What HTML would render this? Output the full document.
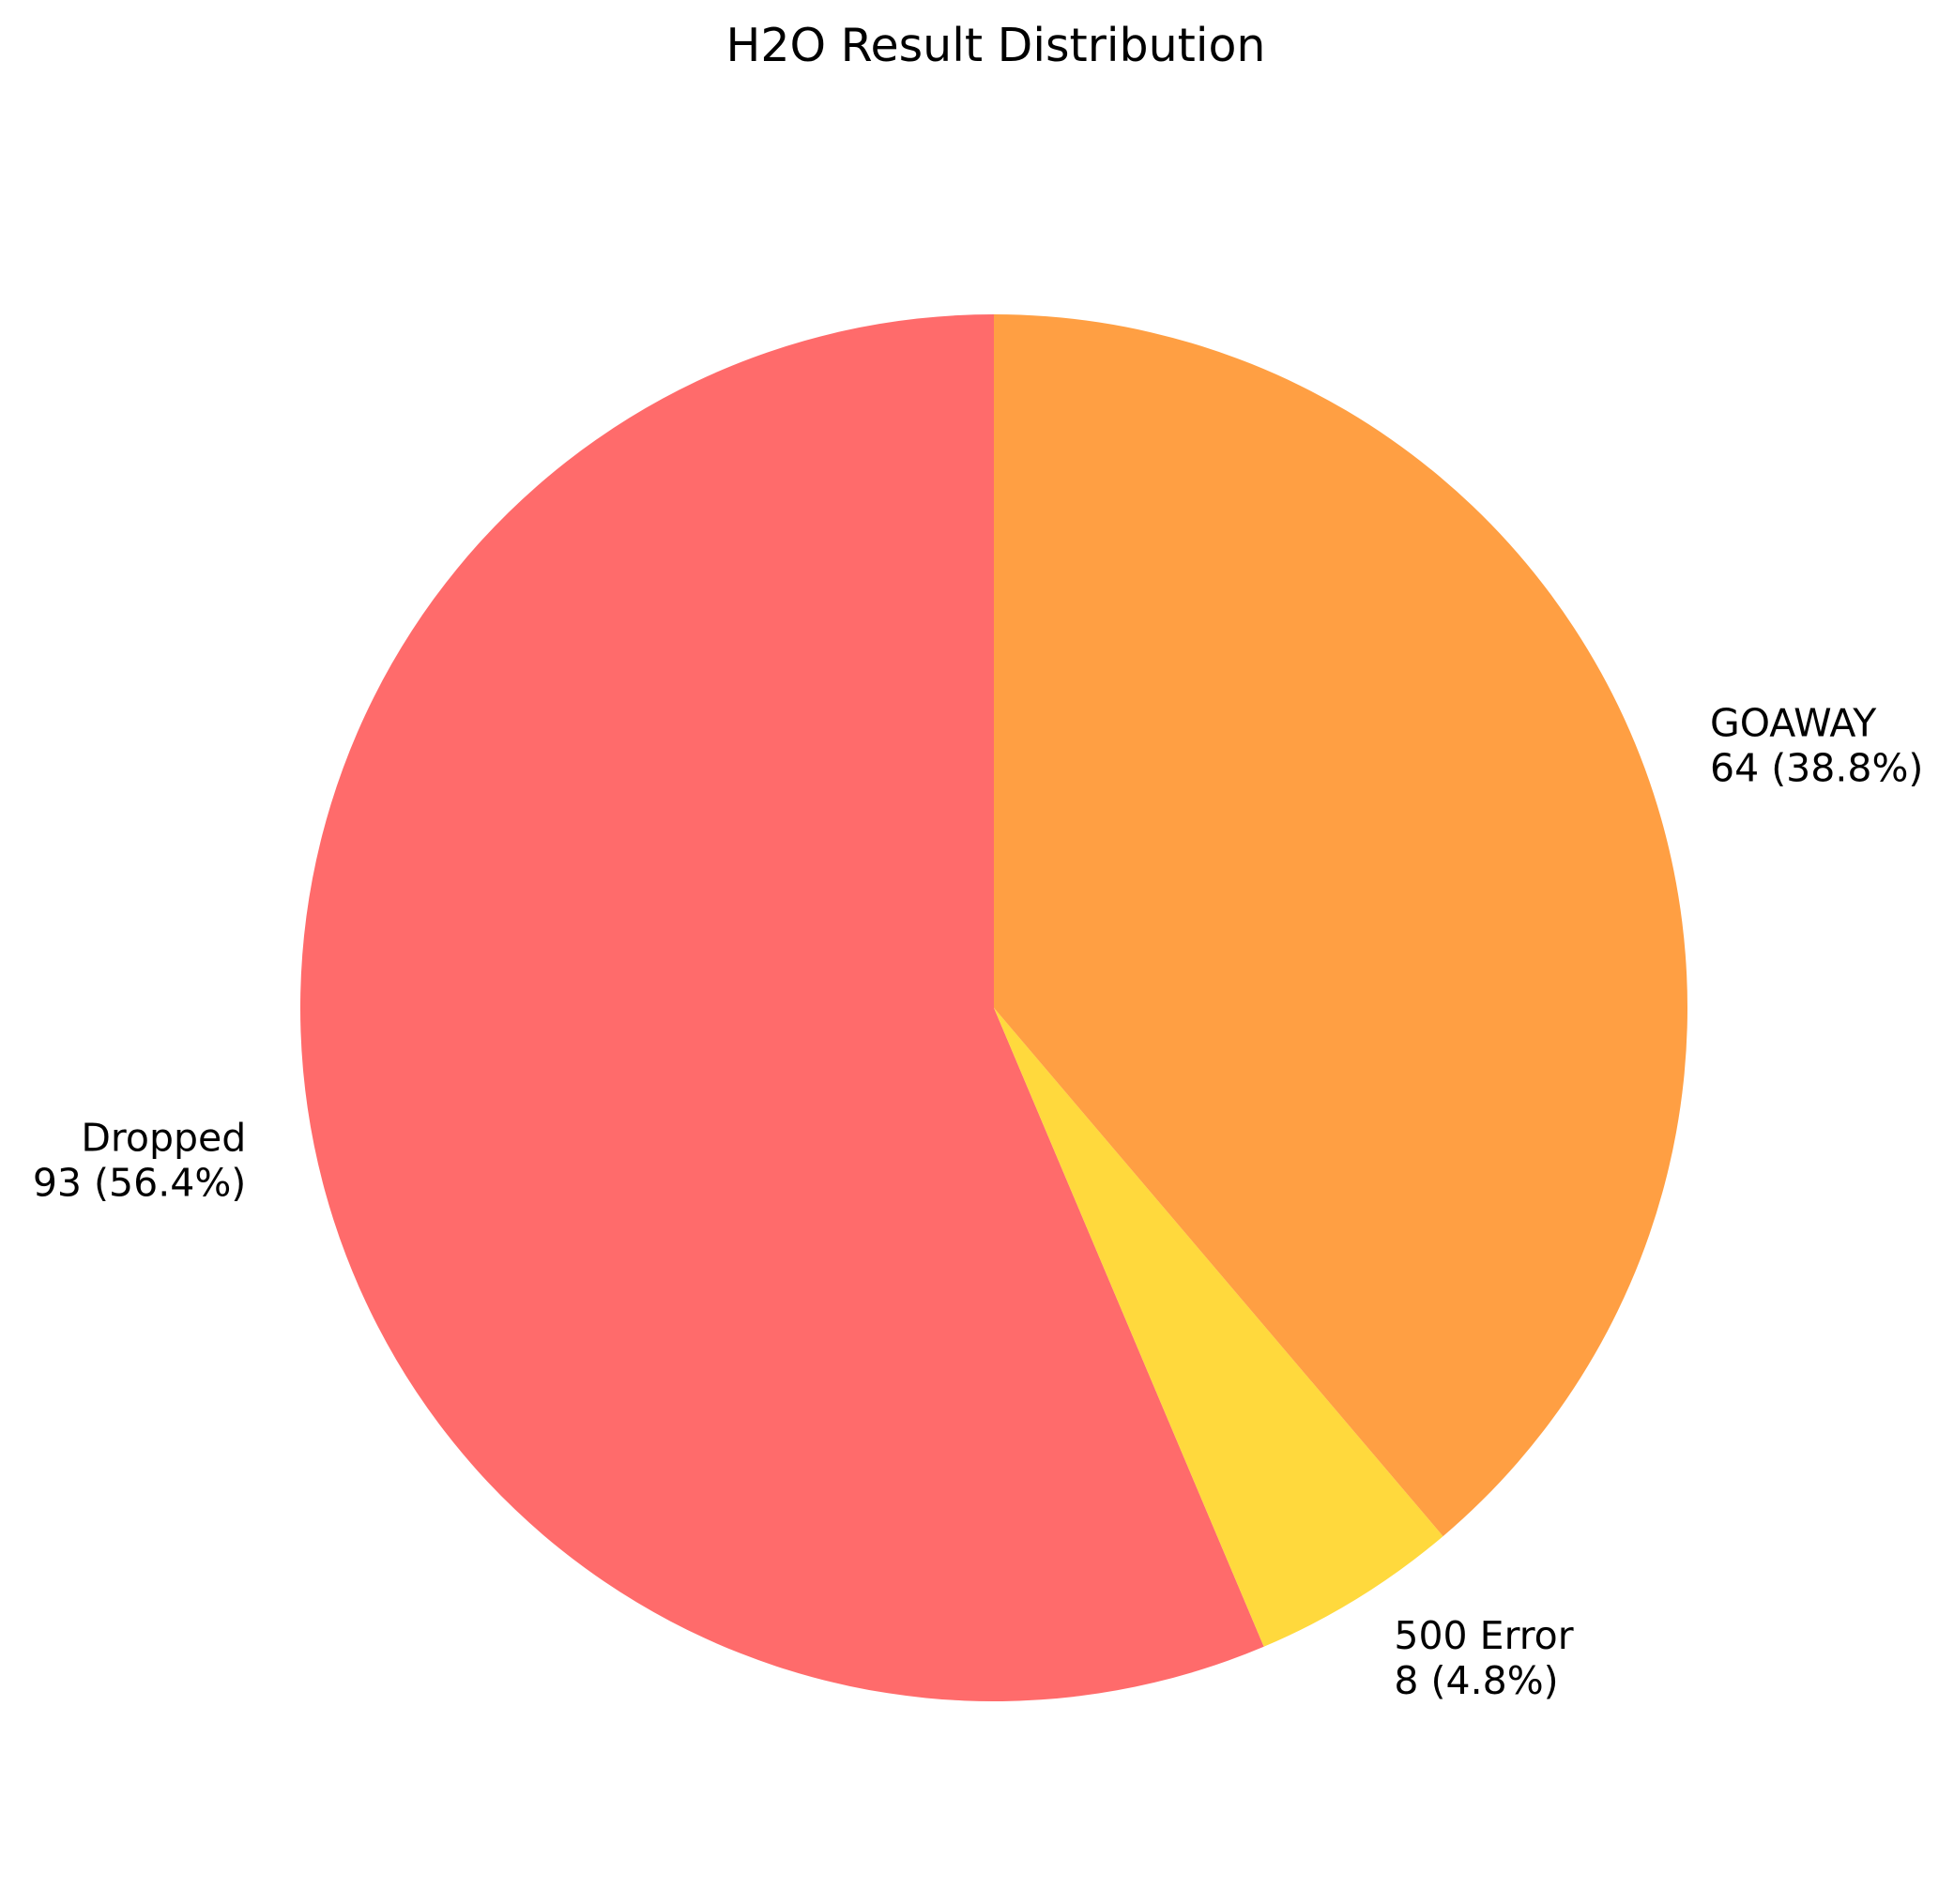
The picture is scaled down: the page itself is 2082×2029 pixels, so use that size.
<!DOCTYPE html>
<html><head><meta charset="utf-8"><style>
html,body{margin:0;padding:0;background:#fff;}
svg{display:block;font-family:"DejaVu Sans","Liberation Sans",sans-serif;}
</style></head><body>
<svg id="chart" width="2082" height="2029" viewBox="0 0 2082 2029" xmlns="http://www.w3.org/2000/svg">
<rect width="2082" height="2029" fill="#fff"/>
<text x="1061" y="65" font-size="49" text-anchor="middle" fill="#000">H2O Result Distribution</text>
<g id="slices"></g>
<g id="labels"></g>
</svg>
<script>
const categories = ["Dropped", "500 Error", "GOAWAY"];
const values = [93, 8, 64];
const colors = ["#ff6b6b", "#ffd93d", "#ff9f43"];

const cx = 1059, cy = 1074, r = 739, fs = 41, lh = 48;
const NS = "http://www.w3.org/2000/svg";
const total = values.reduce((a, b) => a + b, 0);
const sg = document.getElementById("slices");
const lg = document.getElementById("labels");
let start = 90;
values.forEach((v, i) => {
  const sweep = v / total * 360;
  const a0 = start * Math.PI / 180, a1 = (start + sweep) * Math.PI / 180;
  const x0 = cx + r * Math.cos(a0), y0 = cy - r * Math.sin(a0);
  const x1 = cx + r * Math.cos(a1), y1 = cy - r * Math.sin(a1);
  const large = sweep > 180 ? 1 : 0;
  const p = document.createElementNS(NS, "path");
  p.setAttribute("d", `M${cx},${cy} L${x0},${y0} A${r},${r} 0 ${large} 0 ${x1},${y1} Z`);
  p.setAttribute("fill", colors[i]);
  
  
  sg.appendChild(p);

  const mid = (start + sweep / 2) * Math.PI / 180;
  const lx = cx + 1.1 * r * Math.cos(mid), ly = cy - 1.1 * r * Math.sin(mid);
  const t = document.createElementNS(NS, "text");
  t.setAttribute("x", lx);
  t.setAttribute("font-size", fs);
  t.setAttribute("fill", "#000");
  t.setAttribute("text-anchor", Math.cos(mid) < 0 ? "end" : "start");
  
  
  const b1 = ly - lh / 2 + 15;
  const s1 = document.createElementNS(NS, "tspan");
  s1.setAttribute("x", lx); s1.setAttribute("y", b1);
  s1.textContent = categories[i];
  const s2 = document.createElementNS(NS, "tspan");
  s2.setAttribute("x", lx); s2.setAttribute("y", b1 + lh);
  s2.textContent = v + " (" + (v / total * 100).toFixed(1) + "%)";
  t.appendChild(s1); t.appendChild(s2);
  lg.appendChild(t);
  start += sweep;
});
</script>
</body></html>
